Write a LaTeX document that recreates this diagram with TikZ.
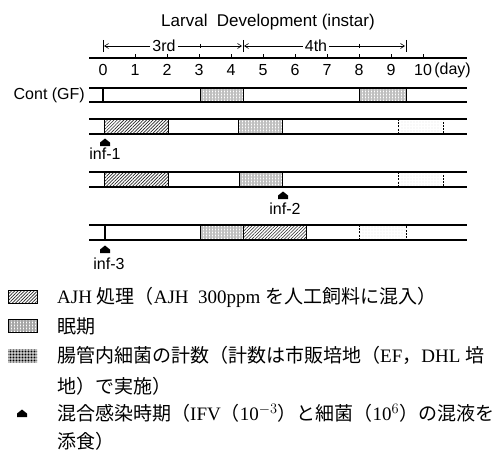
\documentclass[tikz,border=0pt]{standalone}
\usepackage{fontspec}
\setmainfont{Liberation Serif}
\newfontfamily\jp{Noto Sans CJK JP}
\newfontfamily\dsf{Liberation Sans}
\usetikzlibrary{patterns.meta,arrows.meta}
\begin{document}
\begin{tikzpicture}[x=1pt,y=-1pt,
  lab/.style={font=\dsf\fontsize{16}{16}\selectfont, inner sep=0pt},
  bar/.style={line width=1.1pt},
  hatchbox/.style={draw, line width=0.9pt, pattern={Lines[angle=45,distance=2.3pt,line width=0.6pt]}, pattern color=black!85},
  moltbox/.style={draw, line width=0.9pt, pattern={Hatch[angle=0,distance=1.5pt,line width=0.3pt]}, pattern color=black!25},
  countbox/.style={draw, dash pattern=on 2pt off 1.2pt, line width=0.9pt, pattern={Dots[radius=0.3pt,distance=3pt]}, pattern color=black!30},
  leg/.style={anchor=west, inner sep=0pt, font=\fontsize{19}{19}\selectfont},
  arr/.style={-{Straight Barb[length=4pt,width=5pt]}, line width=0.6pt},
  infarrow/.pic={\fill (-5,0) -- (-5,-3.5) -- (0,-7.5) -- (5,-3.5) -- (5,0) -- cycle;}
]
\useasboundingbox (0,0) rectangle (497,452);
% title
\node[lab, font=\dsf\fontsize{17}{17}\selectfont] (title) at (268,22) {Larval\ \ Development (instar)};
% instar bracket
\coordinate (b0) at (103,46);
\coordinate (b1) at (243,46);
\coordinate (b2) at (406,46);
\draw[line width=0.8pt] (103,40) -- (103,52) (243,40) -- (243,52) (406,40) -- (406,52);
\node[lab] (third) at (164,46) {3rd};
\node[lab] (fourth) at (316,46) {4th};
\draw[arr] (third.west) ++(-2,0) -- ([xshift=1pt]b0);
\draw[arr] (third.east) ++(2,0) -- ([xshift=-1pt]b1);
\draw[arr] (fourth.west) ++(-2,0) -- ([xshift=1pt]b1);
\draw[arr] (fourth.east) ++(2,0) -- ([xshift=-1pt]b2);
\draw[line width=0.6pt] (200,44) -- (200,48) (359,44) -- (359,48);
% axis
\draw[line width=1.4pt] (89,58) -- (467,58);
\foreach \d in {1,...,10} {\draw[line width=0.8pt] (103+32*\d,58) -- (103+32*\d,54);}
\foreach \d in {0,...,9} {\node[lab] (n\d) at (103+32*\d,70) {\d};}
\node[lab] (n10) at (423,70) {10};
\node[lab, anchor=west] (day) at ([xshift=2pt]n10.east) {(day)};
% row 1 control
\node[lab, anchor=east] (cont) at (85,95) {Cont (GF)};
\draw[moltbox] (200,88) rectangle (243,102);
\draw[moltbox] (359,88) rectangle (406,102);
\draw[bar] (89,88) -- (467,88) (89,102) -- (467,102) (103,88) -- (103,102);
% row 2 inf-1
\draw[hatchbox] (104,119) rectangle (168,134);
\draw[moltbox] (238,119) rectangle (282,134);
\draw[countbox] (398,119) rectangle (443,134);
\draw[bar] (89,119) -- (467,119) (89,134) -- (467,134);
\pic at (105,146) {infarrow};
\node[lab] (inf1) at (105,154) {inf-1};
% row 3 inf-2
\draw[hatchbox] (104,172) rectangle (168,187);
\draw[moltbox] (239,172) rectangle (282,187);
\draw[countbox] (398,172) rectangle (443,187);
\draw[bar] (89,172) -- (467,172) (89,187) -- (467,187);
\pic at (283,199) {infarrow};
\node[lab] (inf2) at (285,209) {inf-2};
% row 4 inf-3
\draw[moltbox] (200,225) rectangle (243,240);
\draw[hatchbox] (243,225) rectangle (306,240);
\draw[countbox] (359,225) rectangle (406,240);
\draw[bar] (89,225) -- (467,225) (89,240) -- (467,240) (105,225) -- (105,240);
\pic at (105,253) {infarrow};
\node[lab] (inf3) at (109,264) {inf-3};
% legend
\draw[line width=0.6pt, pattern={Lines[angle=45,distance=2.3pt,line width=0.6pt]}, pattern color=black!85] (8,290) rectangle (37,303);
\draw[line width=0.6pt, pattern={Hatch[angle=0,distance=1.5pt,line width=0.3pt]}, pattern color=black!35] (8,319) rectangle (37,332);
\fill[pattern={Dots[radius=0.55pt,distance=1.5pt]}, pattern color=black] (8,349) rectangle (37,362);
\pic at (22,417) {infarrow};
\node[leg] (lg1) at (57,297) {AJH {\jp 処理（}AJH~~300ppm {\jp を人工飼料に混入）}};
\node[leg] (lg2) at (57,326) {\jp 眠期};
\node[leg] (lg3) at (57,355) {{\jp 腸管内細菌の計数（計数は市販培地（}EF{\jp ，}DHL {\jp 培}};
\node[leg] (lg4) at (57,386) {\jp 地）で実施）};
\node[leg] (lg5) at (57,413) {{\jp 混合感染時期（}IFV{\jp （}10$^{-3}${\jp ）と細菌（}10$^{6}${\jp ）の混液を}};
\node[leg] (lg6) at (57,441) {\jp 添食）};
\end{tikzpicture}
\end{document}
